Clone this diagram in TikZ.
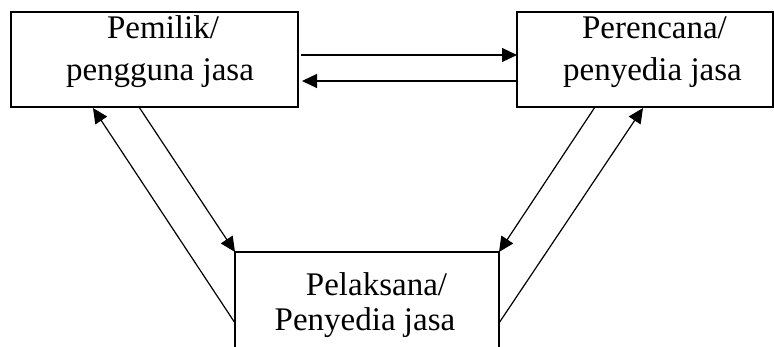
\documentclass[tikz,border=0pt]{standalone}
\usepackage{fontspec}
\setmainfont{Liberation Serif}
\usetikzlibrary{arrows.meta}
\begin{document}
\begin{tikzpicture}[x=1pt,y=-1pt,
  box/.style={draw,line width=1.6pt,rectangle,inner sep=0pt,outer sep=0pt},
  lbl/.style={anchor=base,inner sep=0pt,font=\fontsize{33}{40}\selectfont},
  con/.style={line width=1.2pt,-{Triangle[length=15pt,width=14pt]}}]
\useasboundingbox (0,0) rectangle (774,346);
\clip (0,0) rectangle (774,346);
\node[box,minimum width=287pt,minimum height=95pt] (owner) at (154.5,59.5) {};
\node[box,minimum width=256pt,minimum height=95pt] (planner) at (645,59.5) {};
\node[box,minimum width=264pt,minimum height=120pt] (contractor) at (367,312) {};
\node[lbl] (o1) at (163,38) {Pemilik/};
\node[lbl] (o2) at (160,80) {pengguna jasa};
\node[lbl] (p1) at (654.5,38) {Perencana/};
\node[lbl] (p2) at (652.5,80) {penyedia jasa};
\node[lbl] (c1) at (376.5,295) {Pelaksana/};
\node[lbl] (c2) at (365,330) {Penyedia jasa};
\coordinate (ow1) at (301,55);
\coordinate (ow2) at (302,81);
\coordinate (pw1) at (517,55);
\coordinate (pw2) at (517,81);
\coordinate (os1) at (93,108);
\coordinate (os2) at (139,107);
\coordinate (ps1) at (595,107);
\coordinate (ps2) at (643,108);
\coordinate (cw) at (235,323);
\coordinate (ce) at (499,323);
\draw[con] (ow1) -- (pw1);
\draw[con] (pw2) -- (ow2);
\draw[con] (os2) -- (contractor.north west);
\draw[con] (cw) -- (os1);
\draw[con] (ps1) -- (contractor.north east);
\draw[con] (ce) -- (ps2);
\end{tikzpicture}
\end{document}
